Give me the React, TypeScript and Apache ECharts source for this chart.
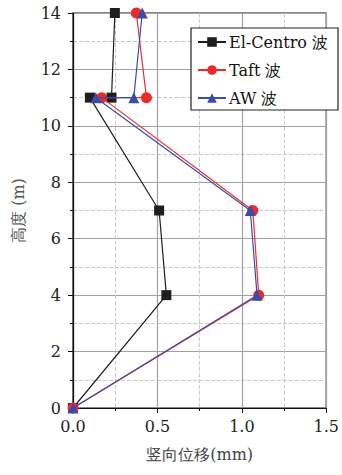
import React, { useEffect, useRef } from "react";
import * as echarts from "echarts";

const seriesNames = ["El-Centro 波", "Taft 波", "AW 波"];
const heights = [0, 4, 7, 11, 11, 14];
const elCentro = [0, 0.553, 0.51, 0.1, 0.228, 0.248];
const taft = [0, 1.1, 1.065, 0.17, 0.435, 0.375];
const aw = [0, 1.09, 1.05, 0.135, 0.36, 0.41];
const xTicks = [0, 0.5, 1.0, 1.5];
const yTicks = [0, 2, 4, 6, 8, 10, 12, 14];

const serif = "DejaVu Serif";

export default function App() {
  const ref = useRef<HTMLDivElement>(null);
  useEffect(() => {
    const chart = echarts.init(ref.current!, null, { renderer: "svg" });
    const mk = (vals: number[]) => vals.map((v, i) => [v, heights[i]]);
    const colors = ["#1e1e1e", "#ee2a2a", "#3a4ca8"];
    const symbols = ["rect", "circle", "triangle"];
    const sizes = [10, 11, 11];
    const all = [elCentro, taft, aw];
    chart.setOption({
      animation: false,
      textStyle: { fontFamily: serif },
      grid: {
        left: 73, right: 14, top: 13, bottom: 67,
        show: true, borderColor: "#111", borderWidth: 1.2, backgroundColor: "transparent",
      },
      legend: {
        left: 191, top: 28, width: 130,
        orient: "vertical",
        padding: [6, 10, 4, 6],
        itemGap: 12,
        itemWidth: 28, itemHeight: 12,
        borderColor: "#222", borderWidth: 1.2,
        backgroundColor: "#fff",
        textStyle: { fontFamily: serif, fontSize: 16, color: "#111", padding: [0, 0, 0, -2] },
        data: seriesNames,
      },
      xAxis: {
        type: "value", min: xTicks[0], max: xTicks[xTicks.length - 1], interval: 0.5,
        name: "竖向位移(mm)", nameLocation: "middle", nameGap: 38,
        nameTextStyle: { fontFamily: serif, fontSize: 16, color: "#444" },
        axisLine: { lineStyle: { color: "#111", width: 1.2 } },
        axisTick: { show: true, inside: false, length: 5, lineStyle: { color: "#111" } },
        minorTick: { show: true, splitNumber: 2, length: 3, lineStyle: { color: "#111" } },
        axisLabel: { fontFamily: serif, fontSize: 16, color: "#222", margin: 10, formatter: (v: number) => v.toFixed(1) },
        splitLine: { show: true, lineStyle: { color: "#a0a0a0", width: 1.2 } },
        minorSplitLine: { show: true, lineStyle: { color: "#c8c8c8", type: "dashed", width: 1 } },
      },
      yAxis: {
        type: "value", min: yTicks[0], max: yTicks[yTicks.length - 1], interval: 2,
        name: "高度 (m)", nameLocation: "middle", nameGap: 47, nameRotate: 90,
        nameTextStyle: { fontFamily: serif, fontSize: 16, color: "#555" },
        axisLine: { show: true, lineStyle: { color: "#111", width: 1.2 } },
        axisTick: { show: true, inside: false, length: 5, lineStyle: { color: "#111" } },
        minorTick: { show: true, splitNumber: 2, length: 3, lineStyle: { color: "#111" } },
        axisLabel: { fontFamily: serif, fontSize: 16, color: "#222", margin: 12 },
        splitLine: { show: true, lineStyle: { color: "#a0a0a0", width: 1.2 } },
        minorSplitLine: { show: true, lineStyle: { color: "#c8c8c8", type: "dashed", width: 1 } },
      },
      series: all.map((vals, i) => ({
        name: seriesNames[i],
        type: "line",
        data: mk(vals),
        symbol: symbols[i],
        symbolSize: sizes[i],
        showAllSymbol: true,
        color: colors[i],
        lineStyle: { color: colors[i], width: 1.2 },
        itemStyle: { color: colors[i] },
        z: 2 + i,
      })),
    });
    return () => chart.dispose();
  }, []);
  return <div ref={ref} style={{ width: 342, height: 475, position: "absolute", left: 0, top: 0 }} />;
}
